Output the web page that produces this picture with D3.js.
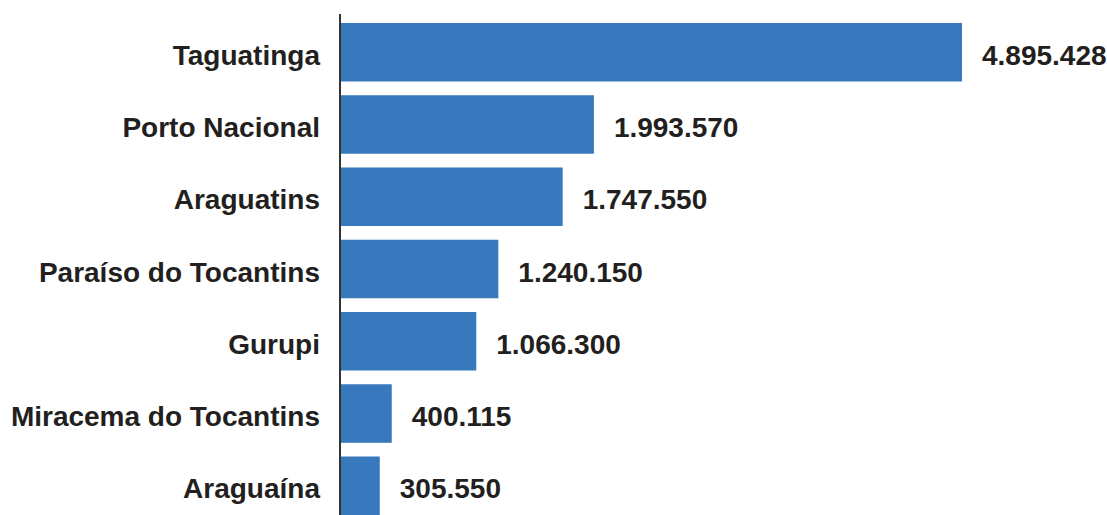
<!DOCTYPE html>
<html>
<head>
<meta charset="utf-8">
<script src="https://cdn.jsdelivr.net/npm/d3@7"></script>
<style>
  html, body { margin: 0; padding: 0; background: #ffffff; }
  svg { display: block; }
  text { font-family: "Liberation Sans", Arial, Helvetica, sans-serif; font-weight: bold; fill: #231f20; }
</style>
</head>
<body>
<svg id="chart" width="1107" height="515"></svg>
<script>
// Municípios e valores
const municipios = [
  "Taguatinga",
  "Porto Nacional",
  "Araguatins",
  "Paraíso do Tocantins",
  "Gurupi",
  "Miracema do Tocantins",
  "Araguaína"
];
const valores = [4895428, 1993570, 1747550, 1240150, 1066300, 400115, 305550];

const width = 1107, height = 515;
const axisX = 341;

const svg = d3.select("#chart");

// Brazilian number format: dot as thousands separator
const br = d3.formatLocale({ decimal: ",", thousands: ".", grouping: [3], currency: ["R$", ""] });
const fmt = br.format(",d");

const x = d3.scaleLinear()
  .domain([0, d3.max(valores)])
  .range([axisX, 962]);

const y = d3.scaleBand()
  .domain(municipios)
  .range([16.1, 521.9])
  .paddingInner(0.19)
  .paddingOuter(0.095);

const data = municipios.map((m, i) => ({ m, v: valores[i] }));

// Bars
svg.append("g")
  .selectAll("rect")
  .data(data)
  .join("rect")
  .attr("x", x(0))
  .attr("y", d => y(d.m))
  .attr("width", d => x(d.v) - x(0))
  .attr("height", y.bandwidth())
  .attr("fill", "#3879bd");

// Value labels
svg.append("g")
  .selectAll("text")
  .data(data)
  .join("text")
  .attr("x", d => x(d.v) + 20)
  .attr("y", d => y(d.m) + y.bandwidth() / 2 + 12.5)
  .attr("font-size", 28)
  .text(d => fmt(d.v));

// Category labels
svg.append("g")
  .selectAll("text")
  .data(data)
  .join("text")
  .attr("x", 320)
  .attr("y", d => y(d.m) + y.bandwidth() / 2 + 12.5)
  .attr("text-anchor", "end")
  .attr("font-size", 28)
  .text(d => d.m);

// Vertical axis line
svg.append("line")
  .attr("x1", 340).attr("x2", 340)
  .attr("y1", 14).attr("y2", height)
  .attr("stroke", "#333333")
  .attr("stroke-width", 2);
</script>
</body>
</html>
